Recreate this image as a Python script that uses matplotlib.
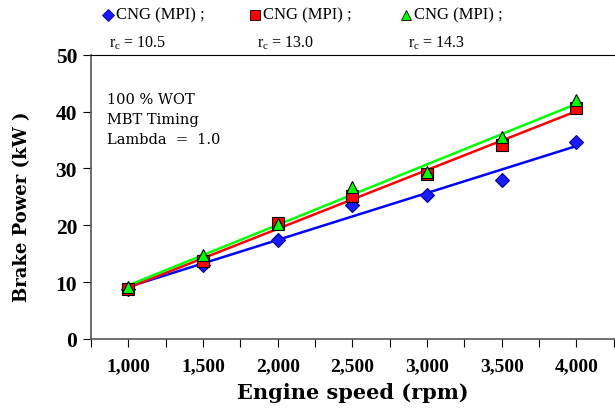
import numpy as np
import matplotlib
matplotlib.use('Agg')
import matplotlib.pyplot as plt
from matplotlib.lines import Line2D

plt.rcParams['font.family'] = ['Liberation Serif', 'DejaVu Serif']

# Datos
velocidad = [1000, 1500, 2000, 2500, 3000, 3500, 4000]
potencia_105 = [8.8, 13.0, 17.4, 23.6, 25.4, 28.0, 34.7]
potencia_130 = [8.8, 13.7, 20.4, 25.2, 29.0, 34.2, 40.6]
potencia_143 = [9.2, 14.8, 20.2, 26.7, 29.3, 35.6, 42.0]
etiquetas_rc = ['10.5', '13.0', '14.3']

series = [
    (potencia_105, 'D', '#1a1aff', '#00008b', 'blue'),
    (potencia_130, 's', '#ff0000', 'black', 'red'),
    (potencia_143, '^', '#00ff00', 'black', '#00ff00'),
]

fig = plt.figure(figsize=(6.15, 4.14), dpi=100)
ax = fig.add_axes([0.148, 0.179, 0.85, 0.686])

x = np.array(velocidad)
for y, m, fc, ec, lc in series:
    coef = np.polyfit(x, y, 1)
    ax.plot(x, np.polyval(coef, x), color=lc, lw=1.8, zorder=2)
    ax.plot(x, y, linestyle='none', marker=m, markersize=8 if m != 'D' else 7,
            markerfacecolor=fc, markeredgecolor=ec, markeredgewidth=0.8, zorder=3)

ax.set_xlim(750, 4250)
ax.set_ylim(0, 50)
pos_x = np.arange(750, 4251, 250)
ax.set_xticks(pos_x)
ax.set_xticklabels(['' if v not in velocidad else f'{v:,}' for v in pos_x])
ax.set_yticks(np.arange(0, 51, 10))
ax.tick_params(axis='both', direction='out', length=6, width=0.8)
ax.tick_params(axis='x', labelsize=14, pad=7)
ax.tick_params(axis='y', labelsize=15.5, pad=4)
for lab in ax.get_xticklabels() + ax.get_yticklabels():
    lab.set_fontweight('bold')

ax.spines['right'].set_visible(False)
ax.spines['left'].set_color('#555555')
ax.spines['bottom'].set_color('#555555')
ax.spines['top'].set_color('black')
ax.spines['left'].set_linewidth(1.2)
ax.spines['bottom'].set_linewidth(1.2)

ax.set_xlabel('Engine speed (rpm)', fontsize=15, fontweight='bold', labelpad=6,
              family='DejaVu Serif')
ax.set_ylabel('Brake Power (kW )', fontsize=13, fontweight='bold',
              family='DejaVu Serif')
ax.yaxis.set_label_coords(-0.115, 0.47)

ax.text(0.03, 0.87, '100 % WOT\nMBT Timing\nLambda  =  1.0', transform=ax.transAxes,
        fontsize=10.5, va='top', ha='left', linespacing=1.55, family='DejaVu Serif')

# Leyenda superior
x_ley = [0.175, 0.415, 0.66]
for (y, m, fc, ec, lc), xl, rc in zip(series, x_ley, etiquetas_rc):
    fig.add_artist(Line2D([xl], [0.962], marker=m, markersize=7 if m != 'D' else 6.5,
                          markerfacecolor=fc, markeredgecolor=ec, markeredgewidth=0.6,
                          linestyle='none', transform=fig.transFigure))
    fig.text(xl + 0.013, 0.962, 'CNG (MPI) ;', fontsize=12, va='center', ha='left')
    fig.text(xl + 0.003, 0.895, '$\\mathregular{r_c}$ = ' + rc, fontsize=11.5, va='center', ha='left')

fig.savefig('out.png', dpi=100)
